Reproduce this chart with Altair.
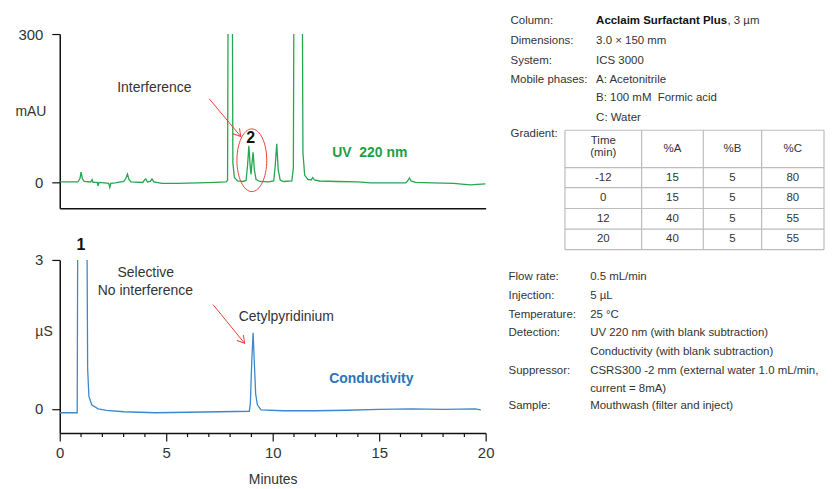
import altair as alt
import pandas as pd

# ---------------- data ----------------
uv_time = [0.0, 0.85, 0.95, 1.0, 1.07, 1.15, 1.45, 1.52, 1.56, 1.62, 1.76, 1.8, 1.84,
           2.1, 2.3, 2.35, 2.4, 2.6, 3.0, 3.1, 3.18, 3.25, 3.35, 3.9, 3.98, 4.04, 4.12,
           4.25, 4.33, 4.42, 4.8, 5.5, 6.5, 7.3, 7.8, 7.88, 7.93, 8.08, 8.13, 8.2, 8.35,
           8.6, 8.75, 8.82, 8.88, 8.94, 8.98, 9.03, 9.08, 9.14, 9.22, 9.4, 9.8, 10.05,
           10.12, 10.19, 10.26, 10.35, 10.5, 10.9, 10.97, 11.02, 11.36, 11.42, 11.5,
           11.65, 11.8, 11.88, 11.96, 12.2, 13.0, 14.0, 14.6, 15.5, 16.25, 16.35, 16.42,
           16.5, 16.7, 17.5, 18.5, 19.0, 19.3, 19.6, 20.0]
uv_mau = [1, 1, 8, 21, 7, 2, 1, 6, 0, 0, 0, -7, 0,
          -1, -2, -10, -2, -1, 2, 8, 17, 6, 1, 0, 5, 7, 1,
          2, 7, 1, -2, -2, -1, 0, 1, 4, 700, 700, 40, 10, 3,
          2, 4, 35, 74, 35, 16, 40, 61, 25, 6, 2, 1, 3,
          35, 78, 25, 5, 2, 3, 30, 700, 700, 60, 15,
          6, 5, 10, 5, 3, 2, 1, -1, -1, -1, 4, 9,
          3, 0, -1, -2, -4, -5, -4, -3]

cd_time = [0.0, 0.82, 0.86, 1.25, 1.31, 1.37, 1.5, 1.8, 2.2, 3.0, 4.5, 6.0, 7.5, 8.9,
           8.95, 9.02, 9.08, 9.13, 9.2, 9.28, 9.45, 10.5, 12.0, 13.5, 15.0, 16.5, 18.0,
           19.5, 19.77]
cd_us = [-0.08, -0.08, 6, 6, 0.8, 0.25, 0.08, 0.0, -0.03, -0.06, -0.08, -0.07, -0.06, -0.05,
         0.1, 1.0, 1.53, 1.0, 0.3, 0.08, -0.02, -0.04, -0.04, -0.03, -0.01, 0.0, -0.01,
         0.0, -0.02]

major_ticks = [0, 5, 10, 15, 20]
minor_ticks = [m for m in range(1, 20) if m % 5]

grad_head = ["Time\n(min)", "%A", "%B", "%C"]
grad_time = ["-12", "0", "12", "20"]
grad_a = ["15", "15", "40", "40"]
grad_b = ["5", "5", "5", "5"]
grad_c = ["80", "80", "55", "55"]

cond_labels_1 = ["Column:", "Dimensions:", "System:", "Mobile phases:", "", "", "Gradient:"]
cond_values_1 = ["", "3.0 \u00d7 150 mm", "ICS 3000", "A: Acetonitrile",
                 "B: 100\u00a0mM\u00a0\u00a0Formic acid", "C: Water", ""]
cond_labels_2 = ["Flow rate:", "Injection:", "Temperature:", "Detection:", "",
                 "Suppressor:", "", "Sample:"]
cond_values_2 = ["0.5 mL/min", "5 \u00b5L", "25 \u00b0C", "UV 220 nm (with blank subtraction)",
                 "Conductivity (with blank subtraction)",
                 "CSRS300 -2 mm (external water 1.0 mL/min,", "current = 8mA)",
                 "Mouthwash (filter and inject)"]

# ---------------- style / layout ----------------
FONT = "Liberation Sans, Arial, Helvetica, sans-serif"
TXT = "#333333"
GREEN = "#26a64f"
GREEN_TXT = "#1c9f47"
BLUE = "#3d88c9"
BLUE_TXT = "#2a74b8"
RED = "#e8413a"
GRID = "#bcbcbc"
SIDE_FS = 11.5

W = 428
H_TOP = 175
H_BOT = 174
X0, Y0 = 58, 34  # page position of top plot origin (for the side panel layout)
DY = 1.3         # small vertical nudge of the side panel

ARROW = "M -1,-0.6 L 0,0 L -1,0.6"
ELLIPSE = "M -0.476,0 A 0.476,1 0 1,1 0.476,0 A 0.476,1 0 1,1 -0.476,0 Z"

xs = alt.Scale(domain=[0, 20], nice=False, zero=False)
ys_top = alt.Scale(domain=[-52, 300], nice=False, zero=False)
ys_bot = alt.Scale(domain=[-0.49, 3], nice=False, zero=False)


def notes(df, xsc, ysc, **kw):
    return alt.Chart(df).mark_text(font=FONT, **kw).encode(
        x=alt.X("t:Q", scale=xsc),
        y=alt.Y("v:Q", scale=ysc),
        text="text:N",
    )


def arrow(df, xsc, ysc, angle):
    rule = alt.Chart(df).mark_rule(color=RED, strokeWidth=1).encode(
        x=alt.X("t0:Q", scale=xsc),
        y=alt.Y("v0:Q", scale=ysc),
        x2="t1:Q", y2="v1:Q",
    )
    head = alt.Chart(df).mark_point(shape=ARROW, size=200, filled=False, color=RED,
                                    strokeWidth=1, opacity=1, angle=angle).encode(
        x=alt.X("t1:Q", scale=xsc),
        y=alt.Y("v1:Q", scale=ysc),
    )
    return rule + head


# ---------------- top panel (UV) ----------------
uv_df = pd.DataFrame({"t": uv_time, "v": uv_mau})
uv_line = alt.Chart(uv_df).mark_line(color=GREEN, strokeWidth=1.3, clip=True).encode(
    x=alt.X("t:Q", scale=xs, axis=alt.Axis(title=None, ticks=False, labels=False, domain=True)),
    y=alt.Y("v:Q", scale=ys_top,
            axis=alt.Axis(values=[0, 300], format="d", title="mAU", titleAngle=0, titleAlign="left",
                          titleBaseline="middle", titleX=-45, titleY=78,
                          tickSize=8, labelPadding=9)),
)
top_note = notes(pd.DataFrame({"t": [4.44], "v": [191], "text": ["Interference"]}),
                 xs, ys_top, fontSize=14, color=TXT)
top_num = notes(pd.DataFrame({"t": [8.97], "v": [90], "text": ["2"]}),
                xs, ys_top, fontSize=16, fontWeight="bold", color="#111")
top_uv = notes(pd.DataFrame({"t": [14.56], "v": [60], "text": ["UV\u00a0\u00a0220 nm"]}),
               xs, ys_top, fontSize=14, fontWeight="bold", color=GREEN_TXT)
top_arrow = arrow(pd.DataFrame({"t0": [7.02], "v0": [169], "t1": [8.50], "v1": [93]}),
                  xs, ys_top, 50)
ellipse = alt.Chart(pd.DataFrame({"t": [9.02], "v": [44.9]})).mark_point(
    shape=ELLIPSE, size=3969, filled=False, color=RED, strokeWidth=1, opacity=1).encode(
    x=alt.X("t:Q", scale=xs), y=alt.Y("v:Q", scale=ys_top))

# side panel (conditions) - laid out to the right of the top panel
rows1_y = [20, 39.3, 59.3, 78.7, 97.3, 116.7, 133.3]
rows2_y = [277.3, 296, 315, 333.3, 352.7, 371.7, 389, 406.7]
side_rows = []
for lab, val, y in zip(cond_labels_1, cond_values_1, rows1_y):
    side_rows.append({"px": 511 - X0, "py": y + DY - Y0, "text": lab, "w": "normal"})
    side_rows.append({"px": 597 - X0, "py": y + DY - Y0, "text": val, "w": "normal"})
side_rows.append({"px": 597 - X0, "py": rows1_y[0] + DY - Y0, "text": "Acclaim Surfactant Plus", "w": "bold"})
side_rows.append({"px": 729 - X0, "py": rows1_y[0] + DY - Y0, "text": ", 3 \u00b5m", "w": "normal"})
for lab, val, y in zip(cond_labels_2, cond_values_2, rows2_y):
    side_rows.append({"px": 509 - X0, "py": y + DY - Y0, "text": lab, "w": "normal"})
    side_rows.append({"px": 591 - X0, "py": y + DY - Y0, "text": val, "w": "normal"})
side_df = pd.DataFrame([r for r in side_rows if r["text"]])

side_normal = alt.Chart(side_df[side_df.w == "normal"]).mark_text(
    align="left", baseline="middle", font=FONT, fontSize=SIDE_FS, color=TXT).encode(
    x=alt.X("px:Q", scale=None), y=alt.Y("py:Q", scale=None), text="text:N")
side_bold = alt.Chart(side_df[side_df.w == "bold"]).mark_text(
    align="left", baseline="middle", font=FONT, fontSize=SIDE_FS, fontWeight="bold", color="#111").encode(
    x=alt.X("px:Q", scale=None), y=alt.Y("py:Q", scale=None), text="text:N")

# gradient table
col_edges = [565.7, 642.7, 704.7, 763.3, 826]
row_edges = [130.7, 168.3, 188.3, 209.3, 230, 250.7]
lines = []
for cx in col_edges:
    lines.append({"a": cx - X0, "b": row_edges[0] - Y0, "c": cx - X0, "d": row_edges[-1] - Y0})
for ry in row_edges:
    lines.append({"a": col_edges[0] - X0, "b": ry - Y0, "c": col_edges[-1] - X0, "d": ry - Y0})
table_lines = alt.Chart(pd.DataFrame(lines)).mark_rule(color=GRID, strokeWidth=1.2).encode(
    x=alt.X("a:Q", scale=None), y=alt.Y("b:Q", scale=None),
    x2="c:Q", y2="d:Q")

cells = []
centers = [(col_edges[i] + col_edges[i + 1]) / 2 for i in range(4)]
for i, h in enumerate(grad_head):
    parts = h.split("\n")
    if len(parts) == 2:
        cells.append({"px": centers[i] - X0, "py": 141 - Y0, "text": parts[0]})
        cells.append({"px": centers[i] - X0, "py": 154 - Y0, "text": parts[1]})
    else:
        cells.append({"px": centers[i] - X0, "py": (row_edges[0] + row_edges[1]) / 2 - Y0, "text": h})
for r, rowvals in enumerate(zip(grad_time, grad_a, grad_b, grad_c)):
    cy = (row_edges[r + 1] + row_edges[r + 2]) / 2
    for i, v in enumerate(rowvals):
        cells.append({"px": centers[i] - X0, "py": cy - Y0, "text": v})
table_text = alt.Chart(pd.DataFrame(cells)).mark_text(
    align="center", baseline="middle", font=FONT, fontSize=SIDE_FS, color=TXT).encode(
    x=alt.X("px:Q", scale=None), y=alt.Y("py:Q", scale=None), text="text:N")

top = alt.layer(uv_line, ellipse, top_arrow, top_note, top_num, top_uv,
                side_normal, side_bold, table_lines, table_text).properties(width=W, height=H_TOP)

# ---------------- bottom panel (conductivity) ----------------
cd_df = pd.DataFrame({"t": cd_time, "v": cd_us})
cd_line = alt.Chart(cd_df).mark_line(color=BLUE, strokeWidth=1.3, clip=True).encode(
    x=alt.X("t:Q", scale=xs,
            axis=alt.Axis(values=major_ticks, format="d", title="Minutes", titlePadding=12,
                          tickSize=8, labelPadding=5, labelOverlap=False, labelFlush=False)),
    y=alt.Y("v:Q", scale=ys_bot,
            axis=alt.Axis(values=[0, 3], format="d", title="\u00b5S", titleAngle=0, titleAlign="left",
                          titleBaseline="middle", titleX=-25, titleY=72,
                          tickSize=8, labelPadding=9)),
)
minor = alt.Chart(pd.DataFrame({"m": minor_ticks})).mark_rule(color="#111", strokeWidth=1.2).encode(
    x=alt.X("m:Q", scale=xs), y=alt.value(H_BOT), y2=alt.value(H_BOT + 4))
bot_num = notes(pd.DataFrame({"t": [1.0], "v": [3.31], "text": ["1"]}),
                xs, ys_bot, fontSize=16, fontWeight="bold", color="#111")
bot_notes = notes(pd.DataFrame({"t": [4.04, 4.02, 10.64], "v": [2.745, 2.377, 1.856],
                                "text": ["Selective", "No interference", "Cetylpyridinium"]}),
                  xs, ys_bot, fontSize=14, color=TXT)
bot_cond = notes(pd.DataFrame({"t": [14.63], "v": [0.593], "text": ["Conductivity"]}),
                 xs, ys_bot, fontSize=14, fontWeight="bold", color=BLUE_TXT)
bot_arrow = arrow(pd.DataFrame({"t0": [7.20], "v0": [2.10], "t1": [8.68], "v1": [1.32]}),
                  xs, ys_bot, 51)

bottom = alt.layer(cd_line, minor, bot_arrow, bot_num, bot_notes, bot_cond).properties(width=W, height=H_BOT)

chart = alt.vconcat(top, bottom, spacing=52, bounds="flush").properties(
    padding={"left": 7, "top": 6, "right": 0, "bottom": 0}
).configure_view(
    stroke=None
).configure_axis(
    domainColor="#111", domainWidth=1.5, tickColor="#111", tickWidth=1.2,
    labelFont=FONT, labelFontSize=15, labelColor=TXT,
    titleFont=FONT, titleFontSize=14, titleFontWeight="normal", titleColor=TXT,
    grid=False,
)

chart.save("out.html", embed_options={"renderer": "svg", "actions": False})
